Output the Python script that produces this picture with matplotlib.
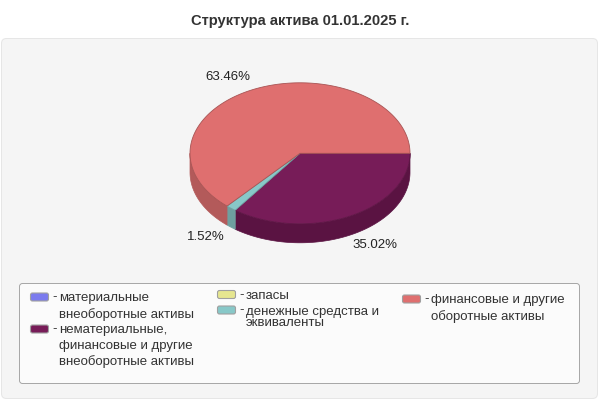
"""Structure of assets pie, drawn as a flat 3D pie on a pixel canvas."""
import numpy as np
import matplotlib
matplotlib.use('Agg')
import matplotlib.pyplot as plt
from matplotlib.patches import FancyBboxPatch, Polygon

plt.rcParams['font.family'] = ['Liberation Sans', 'DejaVu Sans']

TITLE = 'Структура актива 01.01.2025 г.'

# ─── Data ───
slice_values = [35.02, 1.52, 63.46]
slice_colors = ['#771c58', '#88c8c8', '#df6f6f']
side_colors = ['#5a1342', '#6e9f9f', '#b35a5a']
edge_colors = ['#5f1646', '#6fa3a3', '#a85454']
slice_labels = ['35.02%', '1.52%', '63.46%']
label_xy = [(375, 244.5), (206, 236.5), (228, 77.5)]

legend_colors = ['#7b7bee', '#771c58', '#e6e690', '#88c8c8', '#df6f6f']
legend_lines = [
    ['материальные', 'внеоборотные активы'],
    ['нематериальные,', 'финансовые и другие', 'внеоборотные активы'],
    ['запасы'],
    ['денежные средства и', 'эквиваленты'],
    ['финансовые и другие', 'оборотные активы'],
]
legend_x = [30, 30, 217, 217, 402]
legend_y = [[298.5, 314.5], [330.5, 345.5, 361.5], [296], [311.5, 323.5], [300.5, 316.5]]

CX, CY, RX, RY, DEPTH = 300, 153.3, 110, 70.5, 19
FS = 9.5

fig = plt.figure(figsize=(6, 4), dpi=100)
ax = fig.add_axes([0, 0, 1, 1])
ax.set_xlim(0, 600)
ax.set_ylim(400, 0)
ax.axis('off')

ax.text(300, 20.5, TITLE, ha='center', va='center', fontsize=10.6, fontweight='bold', color='#333333')


def rounded(x0, y0, x1, y1, r, fc, ec, lw):
    ax.add_patch(FancyBboxPatch((x0 + r, y0 + r), x1 - x0 - 2 * r, y1 - y0 - 2 * r,
                                boxstyle=f'round,pad={r},rounding_size={r}',
                                fc=fc, ec=ec, lw=lw))


rounded(1.5, 38.5, 597.5, 398.5, 5, '#f5f5f5', '#e6e6e6', 0.72)
rounded(19.5, 283.5, 579.5, 383.5, 3, '#fbfbfb', '#a8a8a8', 0.72)


def ellipse_pts(a0, a1):
    t = np.radians(np.linspace(a0, a1, max(int(abs(a1 - a0)) * 2, 2) + 1))
    return CX + RX * np.cos(t), CY + RY * np.sin(t)


# Angles follow the values, clockwise on screen from east
edges = np.concatenate([[0], np.cumsum(slice_values)]) * 3.6

# Side walls: only the front half of the rim is visible
for i in range(len(slice_values)):
    a0, a1 = edges[i], min(edges[i + 1], 180)
    if a0 >= 180:
        continue
    x, y = ellipse_pts(a0, a1)
    pts = np.r_[np.c_[x, y], np.c_[x[::-1], y[::-1] + DEPTH]]
    ax.add_patch(Polygon(pts, closed=True, fc=side_colors[i], ec=side_colors[i], lw=0.5))

# Top faces
for i in range(len(slice_values)):
    x, y = ellipse_pts(edges[i], edges[i + 1])
    pts = np.r_[[[CX, CY]], np.c_[x, y]]
    ax.add_patch(Polygon(pts, closed=True, fc=slice_colors[i], ec=edge_colors[i], lw=0.6))

for lbl, (x, y) in zip(slice_labels, label_xy):
    ax.text(x, y, lbl, ha='center', va='center', fontsize=FS, color='#222222')

# ─── Legend ───
for col, lines, x, ys in zip(legend_colors, legend_lines, legend_x, legend_y):
    sy = ys[0] - 1.5
    ax.add_patch(FancyBboxPatch((x + 1.5, sy - 3), 16, 6, boxstyle='round,pad=1,rounding_size=2',
                                fc=col, ec='#a0a0a0', lw=0.8))
    ax.text(x + 22, ys[0] - 1, '-', ha='left', va='center', fontsize=FS, color='#333333')
    for line, y in zip(lines, ys):
        ax.text(x + 29, y, line, ha='left', va='center', fontsize=FS, color='#333333')

fig.savefig('out.png', dpi=100)
